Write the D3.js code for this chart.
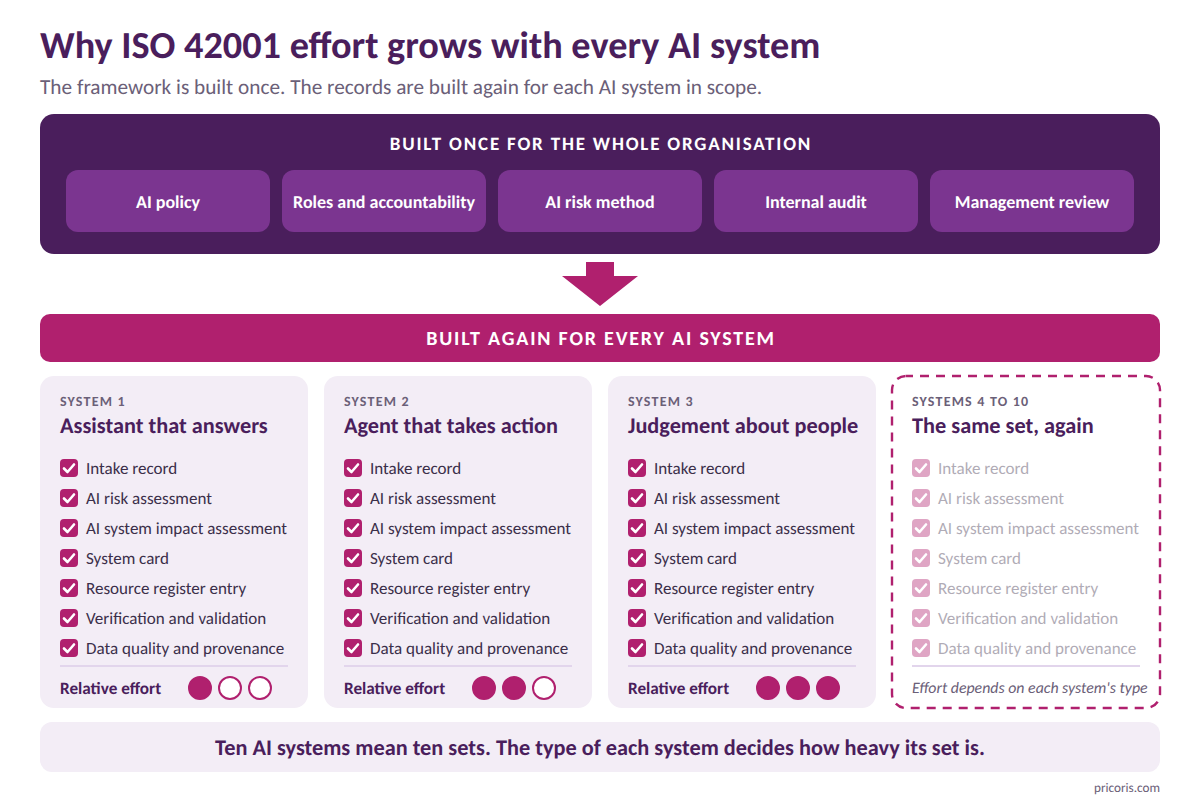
<!DOCTYPE html>
<html>
<head>
<meta charset="utf-8">
<script src="https://cdn.jsdelivr.net/npm/d3@7"></script>
<style>
  html, body { margin: 0; padding: 0; background: #fff; }
  svg { display: block; }
  text { font-family: Carlito, Calibri, Lato, sans-serif; text-rendering: geometricPrecision; }
</style>
</head>
<body>
<svg id="chart"></svg>
<script>
const titleText = "Why ISO 42001 effort grows with every AI system";
const subtitleText = "The framework is built once. The records are built again for each AI system in scope.";
const onceHeading = "BUILT ONCE FOR THE WHOLE ORGANISATION";
const againHeading = "BUILT AGAIN FOR EVERY AI SYSTEM";
const footerText = "Ten AI systems mean ten sets. The type of each system decides how heavy its set is.";
const creditText = "pricoris.com";

const foundations = ["AI policy", "Roles and accountability", "AI risk method", "Internal audit", "Management review"];
const records = [
  "Intake record",
  "AI risk assessment",
  "AI system impact assessment",
  "System card",
  "Resource register entry",
  "Verification and validation",
  "Data quality and provenance"
];
const systemLabels = ["SYSTEM 1", "SYSTEM 2", "SYSTEM 3", "SYSTEMS 4 TO 10"];
const systemNames = ["Assistant that answers", "Agent that takes action", "Judgement about people", "The same set, again"];
// filled dots out of three, null = no rating shown
const effortLevels = [1, 2, 3, null];
const effortDots = [1, 2, 3];
const effortLabel = "Relative effort";
const effortNote = "Effort depends on each system's type";

const dark = "#4a1e5c", pill = "#7b3590", magenta = "#b0206e";
const pale = "#f3edf6", rule = "#e2d5ec", bodyText = "#3b2f4a", muted = "#6b6078";

const svg = d3.select("#chart").attr("width", 1200).attr("height", 800);

/* -------------------------
   TITLE
-------------------------- */

svg.append("text").attr("x", 40).attr("y", 58)
  .attr("font-size", 38.25).attr("font-weight", 700).attr("fill", dark)
  .text(titleText);

svg.append("text").attr("x", 40).attr("y", 94)
  .attr("font-size", 21.25).attr("fill", muted)
  .text(subtitleText);

/* -------------------------
   BUILT ONCE PANEL
-------------------------- */

svg.append("rect")
  .attr("x", 40).attr("y", 114).attr("width", 1120).attr("height", 140)
  .attr("rx", 14).attr("fill", dark);

svg.append("text").attr("x", 601).attr("y", 150)
  .attr("text-anchor", "middle").attr("font-size", 19).attr("font-weight", 700)
  .attr("letter-spacing", 1.8).attr("fill", "#fff")
  .text(onceHeading);

const xPill = d3.scaleBand().domain(foundations).range([66, 1134]).paddingInner(12 / 216);

const pills = svg.selectAll("g.pill")
  .data(foundations)
  .enter()
  .append("g")
  .attr("class", "pill")
  .attr("transform", d => `translate(${xPill(d)},170)`);

pills.append("rect")
  .attr("width", xPill.bandwidth()).attr("height", 62)
  .attr("rx", 12).attr("fill", pill);

pills.append("text")
  .attr("x", xPill.bandwidth() / 2).attr("y", 37.5)
  .attr("text-anchor", "middle").attr("font-size", 18).attr("font-weight", 700)
  .attr("fill", "#fff")
  .text(d => d);

/* -------------------------
   ARROW + BAND
-------------------------- */

svg.append("polygon")
  .attr("points", "586,262 614,262 614,276 638,276 600,306 562,276 586,276")
  .attr("fill", magenta);

svg.append("rect")
  .attr("x", 40).attr("y", 314).attr("width", 1120).attr("height", 48)
  .attr("rx", 10).attr("fill", magenta);

svg.append("text").attr("x", 601).attr("y", 345)
  .attr("text-anchor", "middle").attr("font-size", 20).attr("font-weight", 700)
  .attr("letter-spacing", 1.8).attr("fill", "#fff")
  .text(againHeading);

/* -------------------------
   SYSTEM CARDS
-------------------------- */

const xCard = d3.scaleBand().domain(systemLabels).range([40, 1160]).paddingInner(16 / 284);
const yRow = d3.scalePoint().domain(records).range([468, 648]);
const xDot = d3.scalePoint().domain(effortDots).range([160, 220]);

const cards = svg.selectAll("g.card")
  .data(systemLabels.map((label, i) => ({ label, name: systemNames[i], effort: effortLevels[i] })))
  .enter()
  .append("g")
  .attr("class", "card")
  .attr("transform", d => `translate(${xCard(d.label)},0)`);

cards.append("rect")
  .attr("y", 376)
  .attr("width", xCard.bandwidth())
  .attr("height", 332)
  .attr("rx", 14)
  .attr("fill", d => d.effort === null ? "#fff" : pale)
  .attr("stroke", d => d.effort === null ? magenta : "none")
  .attr("stroke-width", 2.4)
  .attr("stroke-dasharray", d => d.effort === null ? "9 7" : null)
  .attr("stroke-dashoffset", 2);

cards.append("text").attr("x", 20).attr("y", 406)
  .attr("font-size", 14).attr("font-weight", 700).attr("letter-spacing", 1.2)
  .attr("fill", muted)
  .text(d => d.label);

cards.append("text").attr("x", 20).attr("y", 433)
  .attr("font-size", 22.3).attr("font-weight", 700).attr("fill", dark)
  .text(d => d.name);

const rows = cards.selectAll("g.row")
  .data(d => records.map(r => ({ record: r, faded: d.effort === null })))
  .enter()
  .append("g")
  .attr("class", "row")
  .attr("transform", d => `translate(20,${yRow(d.record)})`)
  .attr("opacity", d => d.faded ? 0.4 : 1);

rows.append("rect")
  .attr("y", -9).attr("width", 18).attr("height", 18)
  .attr("rx", 4).attr("fill", magenta);

rows.append("path")
  .attr("d", "M4,0.5 L7.5,4 L14,-3.5")
  .attr("fill", "none").attr("stroke", "#fff")
  .attr("stroke-width", 2.6).attr("stroke-linecap", "round").attr("stroke-linejoin", "round");

rows.append("text")
  .attr("x", 26).attr("y", 5.5)
  .attr("font-size", 17.05).attr("fill", bodyText)
  .text(d => d.record);

cards.append("line")
  .attr("x1", 20).attr("x2", 248).attr("y1", 666).attr("y2", 666)
  .attr("stroke", rule).attr("stroke-width", 2);

const rated = cards.filter(d => d.effort !== null);

rated.append("text").attr("x", 20).attr("y", 693.5)
  .attr("font-size", 17.2).attr("font-weight", 700).attr("fill", dark)
  .text(effortLabel);

rated.selectAll("circle")
  .data(d => effortDots.map(n => ({ n, on: n <= d.effort })))
  .enter()
  .append("circle")
  .attr("cx", d => xDot(d.n))
  .attr("cy", 688)
  .attr("r", 11)
  .attr("fill", d => d.on ? magenta : "#fff")
  .attr("stroke", magenta)
  .attr("stroke-width", 2);

cards.filter(d => d.effort === null).append("text")
  .attr("x", 20).attr("y", 693)
  .attr("font-size", 15.85).attr("font-style", "italic").attr("fill", muted)
  .text(effortNote);

/* -------------------------
   FOOTER
-------------------------- */

svg.append("rect")
  .attr("x", 40).attr("y", 722).attr("width", 1120).attr("height", 50)
  .attr("rx", 12).attr("fill", pale);

svg.append("text").attr("x", 600).attr("y", 755)
  .attr("text-anchor", "middle").attr("font-size", 22.3).attr("font-weight", 700)
  .attr("fill", dark)
  .text(footerText);

svg.append("text").attr("x", 1160).attr("y", 792)
  .attr("text-anchor", "end").attr("font-size", 13.2).attr("fill", muted)
  .text(creditText);
</script>
</body>
</html>
